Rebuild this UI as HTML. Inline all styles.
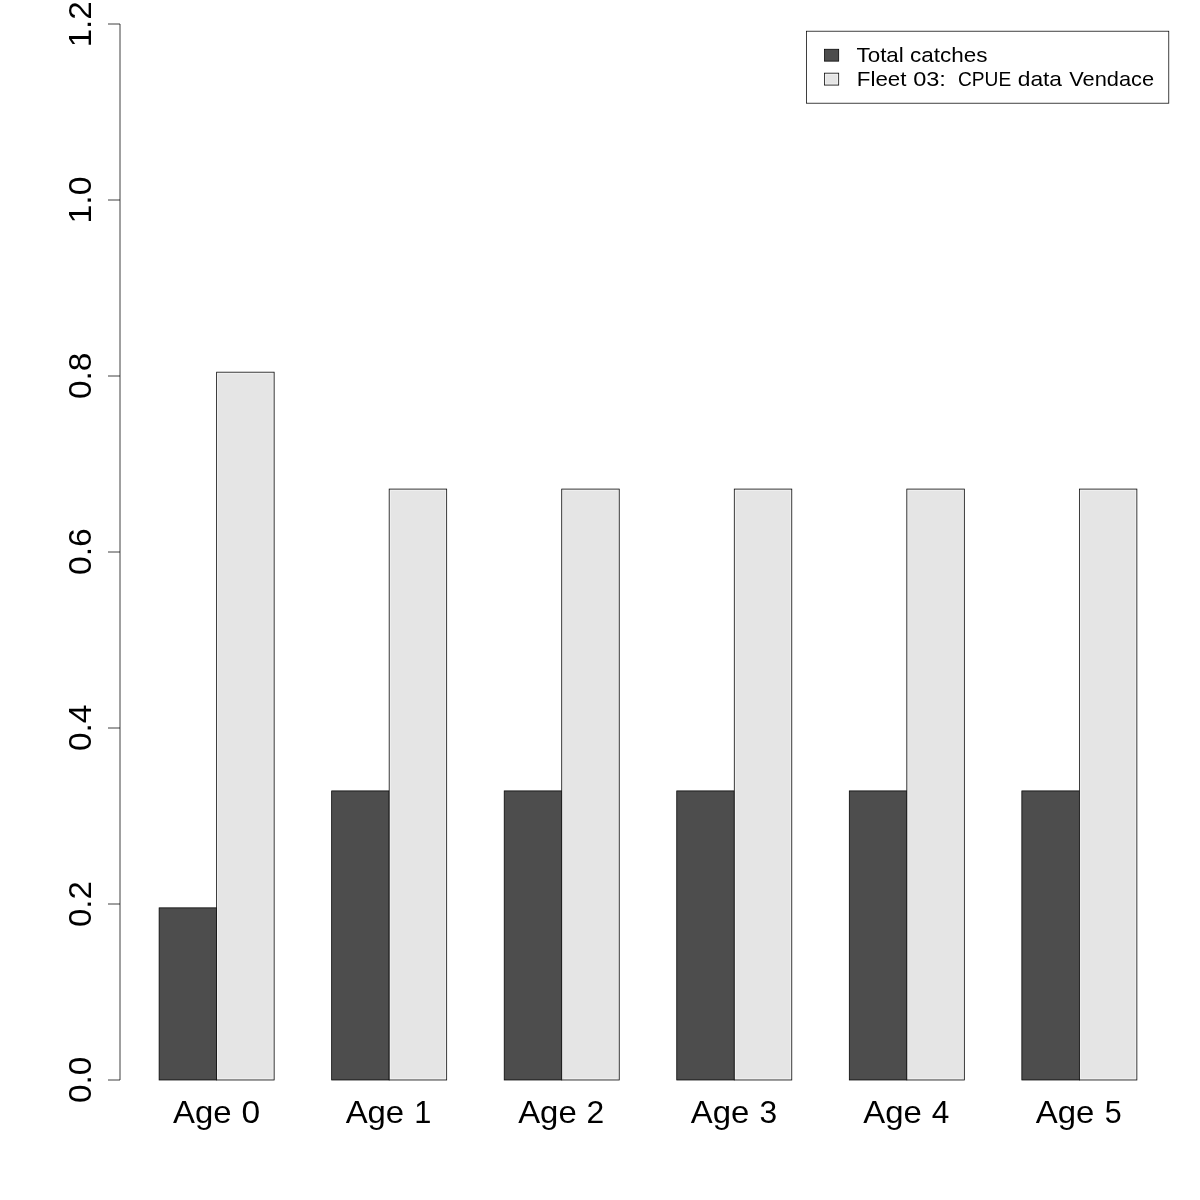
<!DOCTYPE html>
<html><head><meta charset="utf-8"><title>barplot</title><style>
html,body{margin:0;padding:0;background:#fff;width:1200px;height:1200px;overflow:hidden}
svg{display:block;filter:grayscale(100%)}
text{font-family:"Liberation Sans",sans-serif;fill:#000}
</style></head><body>
<svg width="1200" height="1200" viewBox="0 0 1200 1200">
<rect x="0" y="0" width="1200" height="1200" fill="#fff"/>
<g stroke="#000" stroke-width="0.75">
<rect x="159.11" y="907.85" width="57.52" height="172.15" fill="#4d4d4d"/>
<rect x="216.63" y="372.17" width="57.52" height="707.83" fill="#e5e5e5"/>
<rect x="331.66" y="790.90" width="57.52" height="289.10" fill="#4d4d4d"/>
<rect x="389.17" y="489.07" width="57.52" height="590.93" fill="#e5e5e5"/>
<rect x="504.21" y="790.90" width="57.52" height="289.10" fill="#4d4d4d"/>
<rect x="561.72" y="489.07" width="57.52" height="590.93" fill="#e5e5e5"/>
<rect x="676.75" y="790.90" width="57.52" height="289.10" fill="#4d4d4d"/>
<rect x="734.27" y="489.07" width="57.52" height="590.93" fill="#e5e5e5"/>
<rect x="849.30" y="790.90" width="57.52" height="289.10" fill="#4d4d4d"/>
<rect x="906.82" y="489.07" width="57.52" height="590.93" fill="#e5e5e5"/>
<rect x="1021.85" y="790.90" width="57.52" height="289.10" fill="#4d4d4d"/>
<rect x="1079.37" y="489.07" width="57.52" height="590.93" fill="#e5e5e5"/>
</g>
<g stroke="#000" stroke-width="0.75" fill="none">
<line x1="120" y1="24" x2="120" y2="1080"/>
<line x1="108" y1="1080" x2="120" y2="1080"/>
<line x1="108" y1="904" x2="120" y2="904"/>
<line x1="108" y1="728" x2="120" y2="728"/>
<line x1="108" y1="552" x2="120" y2="552"/>
<line x1="108" y1="376" x2="120" y2="376"/>
<line x1="108" y1="200" x2="120" y2="200"/>
<line x1="108" y1="24" x2="120" y2="24"/>
</g>
<g font-size="31.5">
<text transform="translate(90.9,1103.08) rotate(-90) scale(1.0647,1)">0.0</text>
<text transform="translate(90.9,927.06) rotate(-90) scale(1.0476,1)">0.2</text>
<text transform="translate(90.9,751.08) rotate(-90) scale(1.0631,1)">0.4</text>
<text transform="translate(90.9,575.09) rotate(-90) scale(1.0736,1)">0.6</text>
<text transform="translate(90.9,399.08) rotate(-90) scale(1.0638,1)">0.8</text>
<text transform="translate(90.9,223.40) rotate(-90) scale(1.0720,1)">1.0</text>
<text transform="translate(90.9,47.35) rotate(-90) scale(1.0545,1)">1.2</text>
</g>
<g font-size="31.5">
<text transform="translate(173.10,1122.8) scale(1.0440,1)">Age</text>
<text transform="translate(241.39,1122.8) scale(1.0667,1)">0</text>
<text transform="translate(345.64,1122.8) scale(1.0440,1)">Age</text>
<text transform="translate(414.31,1122.8) scale(0.9761,1)">1</text>
<text transform="translate(518.19,1122.8) scale(1.0440,1)">Age</text>
<text transform="translate(586.48,1122.8) scale(1.0105,1)">2</text>
<text transform="translate(690.74,1122.8) scale(1.0440,1)">Age</text>
<text transform="translate(759.41,1122.8) scale(1.0084,1)">3</text>
<text transform="translate(863.29,1122.8) scale(1.0440,1)">Age</text>
<text transform="translate(931.87,1122.8) scale(1.0016,1)">4</text>
<text transform="translate(1035.84,1122.8) scale(1.0440,1)">Age</text>
<text transform="translate(1104.76,1122.8) scale(0.9667,1)">5</text>
</g>
<g stroke="#000" stroke-width="0.75">
<rect x="806.5" y="31.2" width="362.28" height="72.0" fill="none"/>
<rect x="824.5" y="49.25" width="14.2" height="11.9" fill="#4d4d4d"/>
<rect x="824.5" y="73.15" width="14.2" height="11.95" fill="#e5e5e5"/>
</g>
<g stroke="none" shape-rendering="crispEdges">
<rect x="217" y="373" width="1" height="706" fill="#efefef"/>
<rect x="272" y="373" width="1" height="706" fill="#e9e9e9"/>
<rect x="218" y="373" width="54" height="1" fill="#efefef"/>
<rect x="218" y="1078" width="54" height="1" fill="#eeeeee"/>
<rect x="390" y="490" width="1" height="589" fill="#efefef"/>
<rect x="445" y="490" width="1" height="589" fill="#efefef"/>
<rect x="391" y="490" width="54" height="1" fill="#efefef"/>
<rect x="391" y="1078" width="54" height="1" fill="#eeeeee"/>
<rect x="617" y="490" width="1" height="589" fill="#e6e6e6"/>
<rect x="564" y="490" width="53" height="1" fill="#efefef"/>
<rect x="564" y="1078" width="53" height="1" fill="#eeeeee"/>
<rect x="735" y="490" width="1" height="589" fill="#efefef"/>
<rect x="790" y="490" width="1" height="589" fill="#efefef"/>
<rect x="736" y="490" width="54" height="1" fill="#efefef"/>
<rect x="736" y="1078" width="54" height="1" fill="#eeeeee"/>
<rect x="908" y="490" width="1" height="589" fill="#e8e8e8"/>
<rect x="909" y="490" width="53" height="1" fill="#efefef"/>
<rect x="909" y="1078" width="53" height="1" fill="#eeeeee"/>
<rect x="1080" y="490" width="1" height="589" fill="#efefef"/>
<rect x="1135" y="490" width="1" height="589" fill="#efefef"/>
<rect x="1081" y="490" width="54" height="1" fill="#efefef"/>
<rect x="1081" y="1078" width="54" height="1" fill="#eeeeee"/>
<rect x="825" y="74" width="1" height="10" fill="#efefef"/>
<rect x="837" y="74" width="1" height="10" fill="#efefef"/>
<rect x="826" y="74" width="11" height="1" fill="#efefef"/>
<rect x="826" y="83" width="11" height="1" fill="#ebebeb"/>
</g>
<g font-size="20.5">
<text transform="translate(856.55,61.8) scale(1.0912,1)">Total</text>
<text transform="translate(909.94,61.8) scale(1.0971,1)">catches</text>
<text transform="translate(856.83,85.85) scale(1.0903,1)">Fleet</text>
<text transform="translate(913.14,85.85) scale(1.1498,1)">03:</text>
<text transform="translate(957.97,85.85) scale(0.9342,1)">CPUE</text>
<text transform="translate(1017.73,85.85) scale(1.1103,1)">data</text>
<text transform="translate(1069.17,85.85) scale(1.0641,1)">Vendace</text>
</g>
</svg>
</body></html>
